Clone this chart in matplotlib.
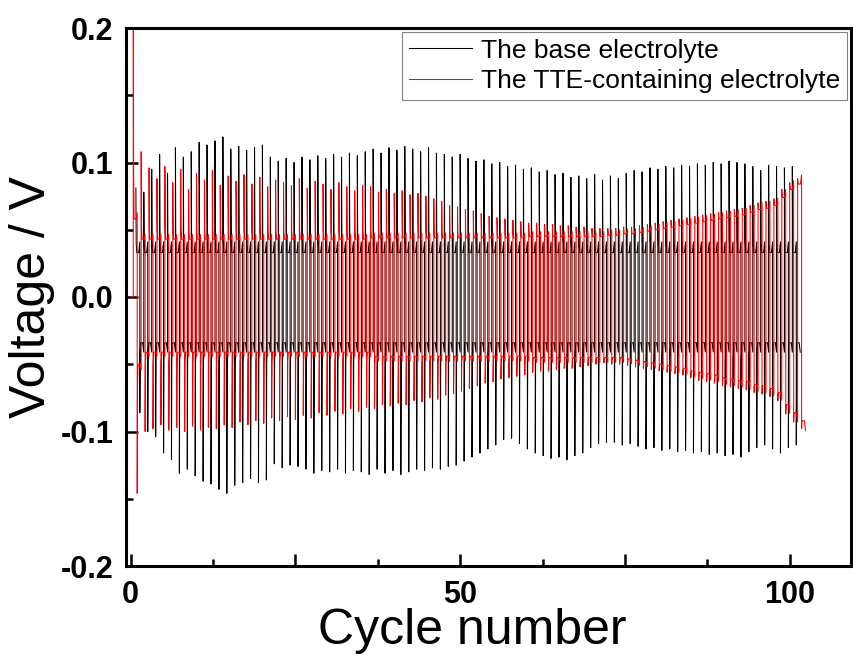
import numpy as np
import matplotlib
matplotlib.use('Agg')
import matplotlib.pyplot as plt

plt.rcParams['font.family'] = ['Liberation Sans', 'DejaVu Sans']

# galvanostatic cycling, one cycle = positive half + negative half
CYCLE_SPAN = 1.2
BASE_START = 0.8
TTE_START = 0.4

# base electrolyte: spike values per cycle (V)
base_pos_peak = [0.081, 0.078, 0.095, 0.106, 0.092, 0.111, 0.104, 0.108, 0.115, 0.113,
                 0.116, 0.119, 0.110, 0.112, 0.109, 0.111, 0.113, 0.104, 0.101, 0.103,
                 0.100, 0.104, 0.102, 0.105, 0.103, 0.106, 0.104, 0.107, 0.105, 0.108,
                 0.110, 0.107, 0.111, 0.109, 0.112, 0.110, 0.108, 0.111, 0.107, 0.106,
                 0.104, 0.106, 0.103, 0.101, 0.102, 0.099, 0.100, 0.097, 0.098, 0.095,
                 0.096, 0.093, 0.094, 0.091, 0.092, 0.089, 0.090, 0.088, 0.091, 0.087,
                 0.090, 0.088, 0.092, 0.094, 0.093, 0.096, 0.095, 0.097, 0.096, 0.098,
                 0.097, 0.099, 0.098, 0.100, 0.099, 0.101, 0.100, 0.099, 0.097, 0.094,
                 0.098, 0.097, 0.096, 0.097]
base_neg_peak = [-0.086, -0.100, -0.104, -0.116, -0.121, -0.131, -0.128, -0.133, -0.137, -0.139,
                 -0.143, -0.146, -0.140, -0.138, -0.135, -0.138, -0.136, -0.124, -0.127, -0.125,
                 -0.126, -0.128, -0.131, -0.129, -0.130, -0.128, -0.131, -0.129, -0.130, -0.132,
                 -0.128, -0.131, -0.129, -0.132, -0.130, -0.128, -0.129, -0.127, -0.128, -0.126,
                 -0.125, -0.122, -0.119, -0.116, -0.113, -0.110, -0.106, -0.105, -0.109, -0.113,
                 -0.116, -0.118, -0.120, -0.119, -0.121, -0.118, -0.116, -0.112, -0.109, -0.108,
                 -0.108, -0.110, -0.109, -0.111, -0.113, -0.112, -0.114, -0.113, -0.115, -0.114,
                 -0.116, -0.115, -0.117, -0.116, -0.118, -0.117, -0.119, -0.115, -0.112, -0.110,
                 -0.113, -0.116, -0.112, -0.110]
base_pos_plateau = 0.033
base_neg_plateau = -0.034
base_pos_end = 0.041
base_neg_end = -0.041

# TTE-containing electrolyte
tte_rest_x = [0.0, 0.4]
tte_rest_v = [0.0, 0.0]
tte_pos_peak = [0.300, 0.108, 0.096, 0.088, 0.097, 0.085, 0.095, 0.080, 0.092, 0.087,
                0.094, 0.083, 0.090, 0.086, 0.091, 0.084, 0.089, 0.082, 0.087, 0.085,
                0.083, 0.088, 0.081, 0.086, 0.084, 0.080, 0.085, 0.082, 0.079, 0.083,
                0.082, 0.078, 0.080, 0.077, 0.079, 0.076, 0.077, 0.075, 0.073, 0.071,
                0.068, 0.067, 0.065, 0.064, 0.062, 0.060, 0.059, 0.058, 0.057, 0.056,
                0.055, 0.055, 0.054, 0.054, 0.053, 0.053, 0.052, 0.052, 0.051, 0.051,
                0.051, 0.051, 0.052, 0.052, 0.053, 0.054, 0.055, 0.056, 0.057, 0.058,
                0.059, 0.060, 0.061, 0.062, 0.063, 0.064, 0.065, 0.066, 0.068, 0.070,
                0.071, 0.073, 0.080, 0.085, 0.088]
tte_neg_peak = [-0.146, -0.100, -0.098, -0.095, -0.099, -0.097, -0.100, -0.096, -0.099, -0.097,
                -0.098, -0.095, -0.097, -0.093, -0.095, -0.092, -0.094, -0.090, -0.092, -0.089,
                -0.091, -0.088, -0.090, -0.086, -0.088, -0.085, -0.087, -0.083, -0.085, -0.082,
                -0.083, -0.080, -0.081, -0.079, -0.080, -0.077, -0.078, -0.075, -0.076, -0.073,
                -0.072, -0.070, -0.068, -0.066, -0.064, -0.063, -0.061, -0.060, -0.059, -0.058,
                -0.056, -0.055, -0.055, -0.054, -0.053, -0.053, -0.052, -0.051, -0.050, -0.049,
                -0.050, -0.050, -0.051, -0.052, -0.053, -0.054, -0.055, -0.056, -0.057, -0.058,
                -0.060, -0.062, -0.063, -0.064, -0.066, -0.067, -0.068, -0.069, -0.071, -0.072,
                -0.074, -0.077, -0.087, -0.093, -0.098]
tte_pos_plateau = [0.058] + [0.043] * 29 + [0.044] * 20 + [0.045] * 10 + \
                  [0.046, 0.046, 0.047, 0.047, 0.048, 0.049, 0.050, 0.051, 0.052, 0.053,
                   0.054, 0.055, 0.056, 0.057, 0.058, 0.059, 0.060, 0.061, 0.063, 0.065,
                   0.066, 0.068, 0.074, 0.080, 0.084]
tte_neg_plateau = [-0.050] + [-0.041] * 29 + [-0.044] * 20 + [-0.045] * 10 + \
                  [-0.045, -0.045, -0.046, -0.047, -0.048, -0.049, -0.050, -0.051, -0.052, -0.053,
                   -0.055, -0.056, -0.057, -0.058, -0.060, -0.061, -0.062, -0.063, -0.065, -0.066,
                   -0.068, -0.071, -0.080, -0.086, -0.092]

labels = ['The base electrolyte', 'The TTE-containing electrolyte']
x_ticks = [0, 25, 50, 75, 100]
x_tick_labels = ['0', '', '50', '', '100']
y_ticks = [-0.2, -0.1, 0.0, 0.1, 0.2]
y_tick_labels = ['-0.2', '-0.1', '0.0', '0.1', '0.2']


def half_cycle(x0, peak, plateau, end, span):
    frac = np.array([0.0, 0.08, 0.22, 0.72, 1.0])
    v = [peak, plateau + 0.15 * (peak - plateau), plateau, plateau, end]
    return x0 + frac * span, v


def build_trace(start, pos_peak, neg_peak, pos_plat, neg_plat, pos_end, neg_end):
    n = len(pos_peak)
    pos_plat = np.broadcast_to(np.asarray(pos_plat, float), n)
    neg_plat = np.broadcast_to(np.asarray(neg_plat, float), n)
    pos_end = np.broadcast_to(np.asarray(pos_end, float), n)
    neg_end = np.broadcast_to(np.asarray(neg_end, float), n)
    h = CYCLE_SPAN / 2
    xs, vs = [], []
    for i in range(n):
        x0 = start + i * CYCLE_SPAN
        a, b = half_cycle(x0, pos_peak[i], pos_plat[i], pos_end[i], h)
        xs.extend(a); vs.extend(b)
        a, b = half_cycle(x0 + h, neg_peak[i], neg_plat[i], neg_end[i], h)
        xs.extend(a); vs.extend(b)
    return np.array(xs), np.array(vs)


bx, bv = build_trace(BASE_START, base_pos_peak, base_neg_peak,
                     base_pos_plateau, base_neg_plateau, base_pos_end, base_neg_end)
tte_pos_end = np.array(tte_pos_plateau) * 1.08
tte_neg_end = np.array(tte_neg_plateau) * 1.08
rx, rv = build_trace(TTE_START, tte_pos_peak, tte_neg_peak,
                     tte_pos_plateau, tte_neg_plateau, tte_pos_end, tte_neg_end)
rx = np.concatenate([tte_rest_x, rx])
rv = np.concatenate([tte_rest_v, rv])

fig = plt.figure(figsize=(8.54, 6.55), dpi=100)
ax = fig.add_axes([126 / 854, 1 - 566 / 655, (851 - 126) / 854, (566 - 28) / 655])

ax.plot(bx, bv, color='black', lw=0.75, label=labels[0])
ax.plot(rx, rv, color='red', lw=0.75, label=labels[1])

ax.set_xlim(-0.7, 109.3)
ax.set_ylim(-0.2, 0.2)
ax.set_xticks(x_ticks, labels=x_tick_labels)
ax.set_xticks(np.arange(12.5, 100, 25), minor=True)
ax.set_yticks(y_ticks, labels=y_tick_labels)
ax.set_yticks(np.arange(-0.15, 0.2, 0.1), minor=True)

for s in ax.spines.values():
    s.set_linewidth(2.2)
ax.tick_params(which='both', direction='in', top=False, right=False, width=1.8)
ax.tick_params(which='major', length=8.5)
ax.tick_params(which='minor', length=5)
ax.tick_params(axis='x', pad=10)
ax.tick_params(axis='y', pad=9)
for lab in ax.get_xticklabels() + ax.get_yticklabels():
    lab.set_fontsize(22)
    lab.set_fontweight('bold')

ax.set_xlabel('Cycle number', fontsize=36, labelpad=0)
ax.xaxis.set_label_coords(0.477, -0.078, transform=ax.transAxes)
ax.xaxis.label.set_va('top')
ax.set_ylabel('Voltage / V', fontsize=36, labelpad=4)

leg = ax.legend(loc='upper right', fontsize=19, frameon=True, fancybox=False,
                handlelength=2.4, handletextpad=0.35, labelspacing=0.25,
                borderpad=0.25, borderaxespad=0.15)
leg.get_frame().set_edgecolor('#666666')
leg.get_frame().set_linewidth(0.8)

fig.savefig('out.png', dpi=100)
